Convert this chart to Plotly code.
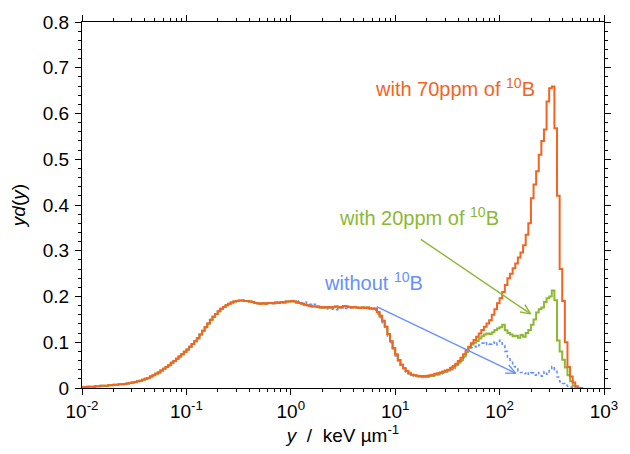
import numpy as np
import plotly.graph_objects as go

# Lineal-energy spectra y·d(y) on log bins, 40 bins per decade from 10^-2 to 10^2.8
bins_per_decade = 40
bin_edges = 10 ** (-2 + np.arange(193) / bins_per_decade)

# 10^-2 .. 10^0: the three spectra coincide here
yd_low = [
    0.002, 0.002, 0.003, 0.003, 0.003, 0.004, 0.004, 0.005,
    0.005, 0.005, 0.006, 0.006, 0.007, 0.007, 0.008, 0.008,
    0.009, 0.010, 0.011, 0.012, 0.013, 0.015, 0.016, 0.018,
    0.020, 0.022, 0.025, 0.028, 0.031, 0.034, 0.038, 0.042,
    0.046, 0.050, 0.055, 0.059, 0.064, 0.069, 0.074, 0.079,
    0.084, 0.090, 0.096, 0.102, 0.109, 0.117, 0.125, 0.133,
    0.141, 0.149, 0.156, 0.162, 0.168, 0.173, 0.177, 0.181,
    0.184, 0.187, 0.189, 0.190, 0.191, 0.191, 0.190, 0.190,
    0.189, 0.188, 0.186, 0.185, 0.184, 0.185, 0.184, 0.186,
    0.186, 0.185, 0.187, 0.186, 0.188, 0.187, 0.189, 0.189,
]

# 10^0 .. 10^2.8, with 70 ppm of 10B
yd_70ppm_high = [
    0.190, 0.189, 0.187, 0.186, 0.184, 0.182, 0.181, 0.179,
    0.178, 0.178, 0.177, 0.176, 0.177, 0.176, 0.177, 0.176,
    0.177, 0.178, 0.176, 0.177, 0.179, 0.178, 0.177, 0.176,
    0.177, 0.176, 0.175, 0.176, 0.175, 0.176, 0.174, 0.174,
    0.173, 0.166, 0.158, 0.147, 0.134, 0.118, 0.102, 0.087,
    0.073, 0.061, 0.051, 0.043, 0.037, 0.032, 0.029, 0.028,
    0.027, 0.026, 0.026, 0.026, 0.027, 0.028, 0.029, 0.031,
    0.032, 0.034, 0.036, 0.038, 0.040, 0.044, 0.048, 0.053,
    0.059, 0.066, 0.074, 0.083, 0.090, 0.098, 0.105, 0.112,
    0.119, 0.127, 0.134, 0.141, 0.148, 0.160, 0.172, 0.185,
    0.196, 0.210, 0.225, 0.240, 0.250, 0.262, 0.272, 0.285,
    0.296, 0.312, 0.335, 0.360, 0.415, 0.445, 0.474, 0.510,
    0.540, 0.565, 0.626, 0.655, 0.659, 0.568, 0.420, 0.260,
    0.190, 0.100, 0.046, 0.025, 0.012, 0.004, 0.000, 0.000,
]

# 10^0 .. 10^2.8, with 20 ppm of 10B
yd_20ppm_high = [
    0.190, 0.189, 0.187, 0.186, 0.184, 0.182, 0.181, 0.179,
    0.178, 0.178, 0.177, 0.176, 0.177, 0.176, 0.177, 0.176,
    0.177, 0.178, 0.176, 0.177, 0.179, 0.178, 0.177, 0.176,
    0.177, 0.176, 0.175, 0.176, 0.175, 0.176, 0.174, 0.174,
    0.173, 0.166, 0.158, 0.147, 0.134, 0.118, 0.102, 0.087,
    0.073, 0.061, 0.051, 0.043, 0.037, 0.032, 0.029, 0.028,
    0.026, 0.025, 0.024, 0.024, 0.025, 0.026, 0.027, 0.029,
    0.030, 0.032, 0.034, 0.036, 0.038, 0.041, 0.045, 0.050,
    0.055, 0.061, 0.069, 0.078, 0.088, 0.095, 0.099, 0.103,
    0.108, 0.113, 0.117, 0.119, 0.118, 0.122, 0.127, 0.130,
    0.133, 0.138, 0.126, 0.120, 0.117, 0.113, 0.114, 0.110,
    0.116, 0.112, 0.120, 0.127, 0.138, 0.150, 0.165, 0.172,
    0.176, 0.188, 0.196, 0.200, 0.213, 0.192, 0.104, 0.080,
    0.062, 0.045, 0.028, 0.015, 0.005, 0.000, 0.000, 0.000,
]

# 10^0 .. 10^2.8, without 10B
yd_without_high = [
    0.190, 0.191, 0.189, 0.190, 0.186, 0.188, 0.185, 0.183,
    0.181, 0.183, 0.179, 0.177, 0.175, 0.173, 0.174, 0.172,
    0.173, 0.171, 0.174, 0.175, 0.176, 0.174, 0.177, 0.175,
    0.176, 0.178, 0.175, 0.177, 0.176, 0.174, 0.177, 0.172,
    0.170, 0.162, 0.154, 0.143, 0.130, 0.114, 0.099, 0.084,
    0.070, 0.059, 0.049, 0.041, 0.035, 0.031, 0.028, 0.026,
    0.025, 0.024, 0.023, 0.024, 0.024, 0.025, 0.026, 0.028,
    0.029, 0.031, 0.033, 0.035, 0.037, 0.040, 0.043, 0.048,
    0.052, 0.058, 0.066, 0.074, 0.082, 0.088, 0.091, 0.089,
    0.094, 0.098, 0.095, 0.099, 0.096, 0.100, 0.094, 0.098,
    0.104, 0.093, 0.080, 0.066, 0.056, 0.047, 0.042, 0.038,
    0.034, 0.031, 0.035, 0.030, 0.033, 0.028, 0.034, 0.031,
    0.026, 0.036, 0.030, 0.042, 0.047, 0.040, 0.024, 0.014,
    0.010, 0.006, 0.004, 0.002, 0.001, 0.000, 0.000, 0.000,
]

yd_70ppm = yd_low + yd_70ppm_high
yd_20ppm = yd_low + yd_20ppm_high
yd_without = yd_low + yd_without_high

ORANGE = "#f2641f"
GREEN = "#8cb833"
BLUE = "#6690ff"

# plot-area geometry (px) used to shape the arrow heads
W, H = 630, 454
ML, MR, MT, MB = 82, 17, 20, 66
PW, PH = W - ML - MR, H - MT - MB
X_LOG_RANGE = (-2, 3)
Y_RANGE = (0, 0.8)
px_per_decade = PW / (X_LOG_RANGE[1] - X_LOG_RANGE[0])
px_per_unit = PH / (Y_RANGE[1] - Y_RANGE[0])


def step_xy(values):
    xs = list(bin_edges)
    ys = list(values) + [values[-1]]
    return xs, ys


def arrow_xy(x0, y0, x1, y1, head_len=11, half_angle=24):
    """Shaft from (x0,y0) to tip (x1,y1) plus an open V head, in data units."""
    p0 = np.array([np.log10(x0) * px_per_decade, -y0 * px_per_unit])
    p1 = np.array([np.log10(x1) * px_per_decade, -y1 * px_per_unit])
    d = (p0 - p1) / np.linalg.norm(p0 - p1)
    xs, ys = [x0, x1, None], [y0, y1, None]
    for s in (1, -1):
        a = np.radians(half_angle) * s
        r = np.array([d[0] * np.cos(a) - d[1] * np.sin(a),
                      d[0] * np.sin(a) + d[1] * np.cos(a)])
        w = p1 + r * head_len
        xs += [10 ** (w[0] / px_per_decade), x1, None]
        ys += [-w[1] / px_per_unit, y1, None]
    return xs, ys


fig = go.Figure()

for vals, color, dash, width in [
    (yd_without, BLUE, "dot", 1.6),
    (yd_20ppm, GREEN, "solid", 2),
    (yd_70ppm, ORANGE, "solid", 2),
]:
    xs, ys = step_xy(vals)
    fig.add_trace(go.Scatter(x=xs, y=ys, mode="lines", line_shape="hv",
                             line=dict(color=color, width=width, dash=dash),
                             showlegend=False, hoverinfo="skip"))

# pointer arrows from labels to curves
for (x0, y0, x1, y1), color in [
    ((6.64, 0.178, 143, 0.032), BLUE),
    ((17.6, 0.325, 198, 0.162), GREEN),
]:
    ax_, ay_ = arrow_xy(x0, y0, x1, y1)
    fig.add_trace(go.Scatter(x=ax_, y=ay_, mode="lines",
                             line=dict(color=color, width=1.4),
                             showlegend=False, hoverinfo="skip"))

FONT = "Arial, 'Liberation Sans', sans-serif"
labels = [
    ("with 70ppm of <sup>10</sup>B", 37, 0.656, ORANGE),
    ("with 20ppm of <sup>10</sup>B", 17, 0.375, GREEN),
    ("without <sup>10</sup>B", 6.2, 0.232, BLUE),
]
for text, x, y, color in labels:
    fig.add_annotation(x=np.log10(x), y=y, xref="x", yref="y", text=text,
                       showarrow=False, xanchor="center", yanchor="middle",
                       font=dict(family=FONT, size=20, color=color))

tick_vals = [1e-2, 1e-1, 1e0, 1e1, 1e2, 1e3]
tick_text = ["10<sup>-2</sup>", "10<sup>-1</sup>", "10<sup>0</sup>",
             "10<sup>1</sup>", "10<sup>2</sup>", "10<sup>3</sup>"]
minor_vals = [m * 10 ** k for k in range(-2, 3) for m in range(2, 10)]

fig.update_layout(
    width=W, height=H,
    margin=dict(l=ML, r=MR, t=MT, b=MB),
    paper_bgcolor="white", plot_bgcolor="white",
    font=dict(family=FONT, size=18, color="black"),
    xaxis=dict(
        type="log", range=list(X_LOG_RANGE),
        tickmode="array", tickvals=tick_vals, ticktext=tick_text,
        tickfont=dict(size=19),
        ticks="outside", ticklen=6, tickwidth=1, tickcolor="black",
        minor=dict(tickmode="array", tickvals=minor_vals, ticks="outside",
                   ticklen=3, tickcolor="black"),
        showline=True, linecolor="black", linewidth=1, mirror="ticks",
        showgrid=False, zeroline=False,
        title=dict(text="<i>y</i>  /  keV µm<sup>-1</sup>", standoff=6,
                   font=dict(size=19)),
    ),
    yaxis=dict(
        range=list(Y_RANGE), dtick=0.1, tick0=0,
        tickfont=dict(size=19), ticklabelstandoff=2,
        ticks="outside", ticklen=6, tickwidth=1, tickcolor="black",
        minor=dict(dtick=0.02, ticks="outside", ticklen=3, tickcolor="black"),
        showline=True, linecolor="black", linewidth=1, mirror="ticks",
        showgrid=False, zeroline=False,
        title=dict(text="<i>yd</i>(<i>y</i>)", standoff=12, font=dict(size=19)),
    ),
)

fig.write_html("out.html")
